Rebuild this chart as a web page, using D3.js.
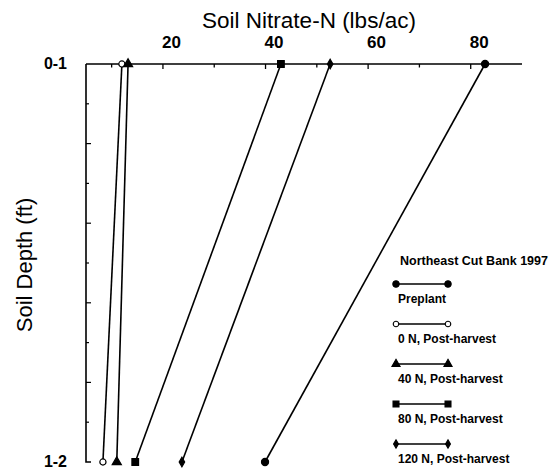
<!DOCTYPE html>
<html>
<head>
<meta charset="utf-8">
<script src="https://cdn.jsdelivr.net/npm/d3@7"></script>
<style>
  body { margin: 0; background: #fff; }
  svg { display: block; font-family: 'Liberation Sans', Arial, sans-serif; }
</style>
</head>
<body>
<div id="chart"></div>
<script>
// Soil nitrate profile, Northeast Cut Bank 1997
var depths = ['0-1', '1-2']
var seriesNames = ['Preplant', '0 N, Post-harvest', '40 N, Post-harvest', '80 N, Post-harvest', '120 N, Post-harvest']
var preplant = [82.8, 39.9]
var n0 = [12.0, 8.3]
var n40 = [13.2, 11.0]
var n80 = [43.0, 14.6]
var n120 = [52.6, 23.7]
var xTickValues = [10, 20, 30, 40, 50, 60, 70, 80]
var xTickLabels = [20, 40, 60, 80]

var width = 552
var height = 469

var series = [preplant, n0, n40, n80, n120].map(function (v, i) {
  return { name: seriesNames[i], values: v.map(function (x, j) { return { depth: depths[j], value: x } }) }
})

// marker style per series
var markers = [
  { type: d3.symbolCircle, size: 40, fill: '#000' },
  { type: d3.symbolCircle, size: 30, fill: '#fff' },
  { type: d3.symbolTriangle, size: 36, fill: '#000' },
  { type: d3.symbolSquare, size: 44, fill: '#000' },
  { type: d3.symbolDiamond, size: 26, fill: '#000' }
]

var svg = d3.select('#chart').append('svg')
  .attr('width', width)
  .attr('height', height)

var x = d3.scaleLinear().domain([5, 90]).range([86, 522])
var y = d3.scalePoint().domain(depths).range([64, 462])
// fractional depth scale for the small ticks on the left axis
var yFrac = d3.scaleLinear().domain([0, 1]).range([64, 462])

var g = svg.append('g')

// axes frame
g.append('path')
  .attr('d', 'M' + x(5) + ',' + y('0-1') + 'H' + x(90) + 'M' + x(5) + ',' + y('0-1') + 'V' + y('1-2') + 'h5')
  .attr('fill', 'none')
  .attr('stroke', '#000')
  .attr('stroke-width', 1.6)

// top ticks (pointing inward)
g.selectAll('.xtick')
  .data(xTickValues)
  .join('line')
  .attr('x1', function (d) { return x(d) })
  .attr('x2', function (d) { return x(d) })
  .attr('y1', y('0-1'))
  .attr('y2', function (d) { return y('0-1') + (d % 20 === 0 ? 5 : 3.5) })
  .attr('stroke', '#000')
  .attr('stroke-width', 1.3)

g.selectAll('.xlabel')
  .data(xTickLabels)
  .join('text')
  .attr('x', function (d) { return x(d) - 1 })
  .attr('y', 48)
  .attr('font-size', 17)
  .attr('font-weight', 'bold')
  .text(function (d) { return d })

// left ticks
g.selectAll('.ytick')
  .data(d3.range(1, 10).map(function (i) { return i / 10 }))
  .join('line')
  .attr('x1', x(5))
  .attr('x2', function (d, i) { return x(5) + (i % 2 === 1 ? 5 : 3) })
  .attr('y1', function (d) { return yFrac(d) })
  .attr('y2', function (d) { return yFrac(d) })
  .attr('stroke', '#000')
  .attr('stroke-width', 1.2)

g.selectAll('.ylabel')
  .data(depths)
  .join('text')
  .attr('x', 67)
  .attr('y', function (d) { return y(d) + 5 })
  .attr('text-anchor', 'end')
  .attr('font-size', 16)
  .attr('font-weight', 'bold')
  .text(function (d) { return d })

// titles
svg.append('text')
  .attr('x', 309)
  .attr('y', 28)
  .attr('text-anchor', 'middle')
  .attr('font-size', 22.5)
  .text('Soil Nitrate-N (lbs/ac)')

svg.append('text')
  .attr('transform', 'translate(32,265) rotate(-90)')
  .attr('text-anchor', 'middle')
  .attr('font-size', 22)
  .text('Soil Depth (ft)')

// profile lines
var line = d3.line()
  .x(function (d) { return x(d.value) })
  .y(function (d) { return y(d.depth) })

g.selectAll('.profile')
  .data(series)
  .join('path')
  .attr('d', function (d) { return line(d.values) })
  .attr('fill', 'none')
  .attr('stroke', '#000')
  .attr('stroke-width', 1.6)

series.forEach(function (s, i) {
  var m = markers[i]
  g.selectAll('.pt' + i)
    .data(s.values)
    .join('path')
    .attr('transform', function (d) { return 'translate(' + x(d.value) + ',' + y(d.depth) + ')' })
    .attr('d', d3.symbol().type(m.type).size(m.size))
    .attr('fill', m.fill)
    .attr('stroke', '#000')
    .attr('stroke-width', 1.2)
})

// legend
var legend = svg.append('g')
legend.append('text')
  .attr('x', 400)
  .attr('y', 265)
  .attr('font-size', 12.5)
  .attr('font-weight', 'bold')
  .text('Northeast Cut Bank 1997')

var item = legend.selectAll('.item')
  .data(series)
  .join('g')
  .attr('transform', function (d, i) { return 'translate(0,' + (284 + i * 40) + ')' })

item.append('line')
  .attr('x1', 396)
  .attr('x2', 448)
  .attr('stroke', '#000')
  .attr('stroke-width', 1.4)

item.each(function (d, i) {
  var m = markers[i]
  d3.select(this).selectAll('.lm')
    .data([396, 448])
    .join('path')
    .attr('transform', function (px) { return 'translate(' + px + ',0)' })
    .attr('d', d3.symbol().type(m.type).size(m.size * 0.8))
    .attr('fill', m.fill)
    .attr('stroke', '#000')
    .attr('stroke-width', 1.1)
})

item.append('text')
  .attr('x', 398)
  .attr('y', 19)
  .attr('font-size', 12)
  .attr('font-weight', 'bold')
  .text(function (d) { return d.name })
</script>
</body>
</html>
